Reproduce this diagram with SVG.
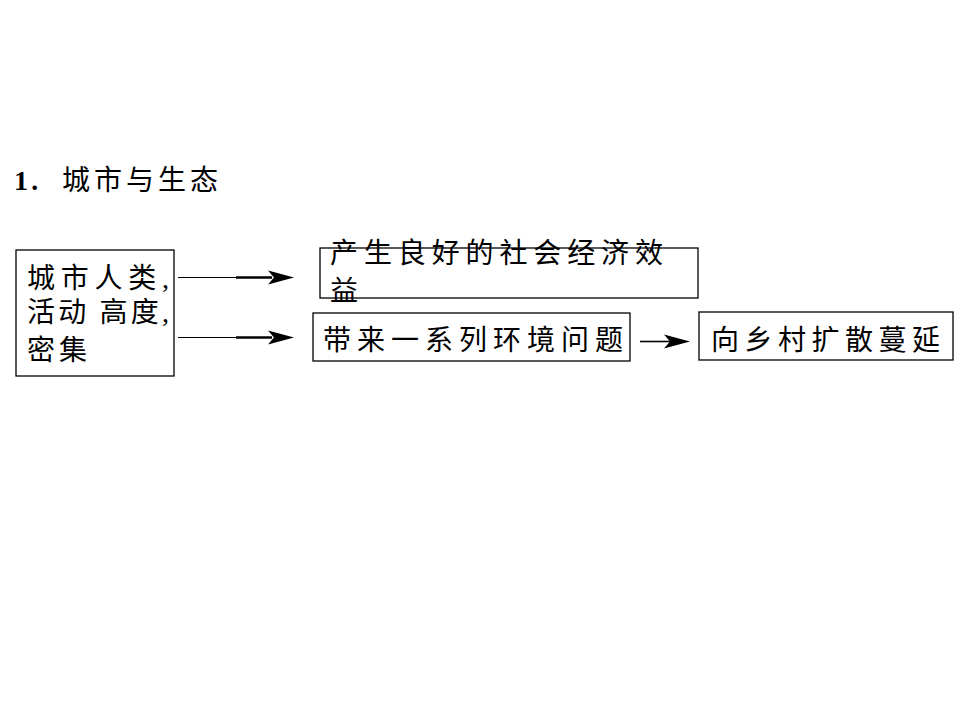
<svg xmlns="http://www.w3.org/2000/svg" width="960" height="720" viewBox="0 0 960 720">
<style>
.box{fill:#fff;stroke:#000;stroke-width:1.3}
.t{font-family:"Liberation Serif","Noto Sans CJK SC",serif;font-size:28px;fill:#000}
.ln{stroke:#000;fill:none}
</style>
<defs>
<path id="ah" d="M0,0 L-26,-7 L-20,0 L-26,7 Z" fill="#000"/>
</defs>
<rect width="960" height="720" fill="#fff"/>
<g id="title">
<text x="14" y="190" class="t" style="font-weight:bold">1<tspan font-weight="normal">．</tspan></text>
<text x="62" y="190" class="t" textLength="156">城市与生态</text>
</g>
<g id="n1">
<rect class="box" x="16" y="250" width="158" height="126"/>
<text class="t" x="27" y="288" textLength="142">城市人类,</text>
<text class="t" x="27" y="322" textLength="142">活动 高度,</text>
<text class="t" x="27" y="360" textLength="60">密集</text>
</g>
<g id="n2">
<rect class="box" x="320" y="248" width="378" height="50"/>
<text class="t" x="330" y="263" textLength="333">产生良好的社会经济效</text>
<text class="t" x="330" y="301">益</text>
</g>
<g id="n3">
<rect class="box" x="313" y="313" width="317" height="48"/>
<text class="t" x="323" y="350" textLength="300">带来一系列环境问题</text>
</g>
<g id="n4">
<rect class="box" x="699" y="312" width="254" height="48"/>
<text class="t" x="711" y="350" textLength="229">向乡村扩散蔓延</text>
</g>
<g id="connectors">
<line class="ln" x1="178" y1="277.5" x2="270" y2="277.5" stroke-width="1.2"/>
<line class="ln" x1="236" y1="277.5" x2="272" y2="277.5" stroke-width="2.4"/>
<use href="#ah" transform="translate(294,277.5)"/>
<line class="ln" x1="178" y1="337.5" x2="270" y2="337.5" stroke-width="1.2"/>
<line class="ln" x1="236" y1="337.5" x2="272" y2="337.5" stroke-width="2.4"/>
<use href="#ah" transform="translate(294,337.5)"/>
<line class="ln" x1="640" y1="341.5" x2="672" y2="341.5" stroke-width="1.6"/>
<use href="#ah" transform="translate(690,341.5)"/>
</g>
</svg>
